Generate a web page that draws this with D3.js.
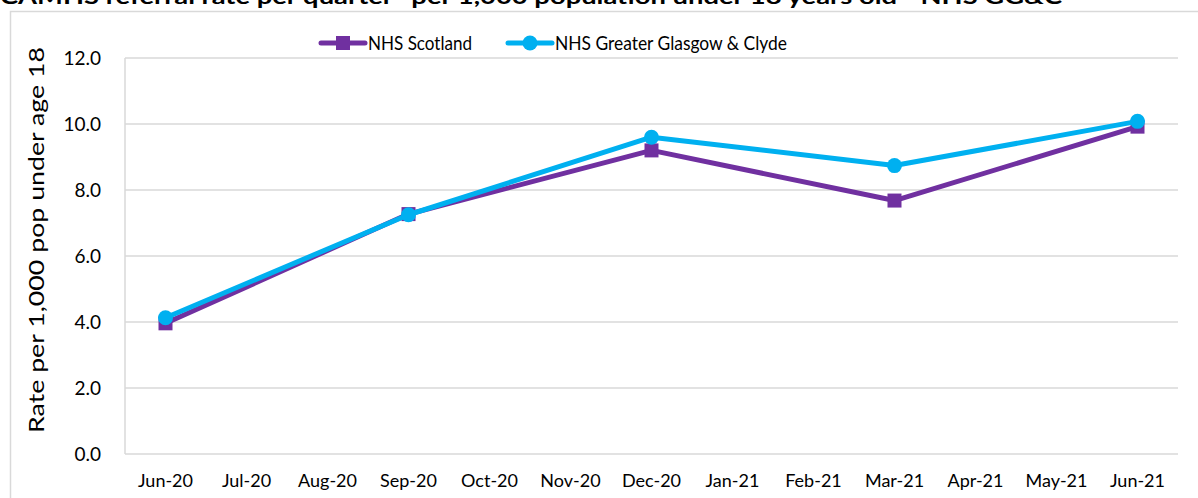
<!DOCTYPE html>
<html>
<head>
<meta charset="utf-8">
<script src="https://cdn.jsdelivr.net/npm/d3@7"></script>
<style>
  html, body { margin: 0; padding: 0; background: #fff; overflow: hidden; }
  svg { display: block; font-family: Lato, "Open Sans", sans-serif; }
</style>
</head>
<body>
<svg id="chart" width="1198" height="498"></svg>
<script>
const months = ["Jun-20","Jul-20","Aug-20","Sep-20","Oct-20","Nov-20","Dec-20","Jan-21","Feb-21","Mar-21","Apr-21","May-21","Jun-21"];
const quarterMonths = ["Jun-20","Sep-20","Dec-20","Mar-21","Jun-21"];
const scotlandValues = [3.96, 7.27, 9.20, 7.68, 9.92];
const ggcValues = [4.13, 7.25, 9.60, 8.74, 10.08];
const yTicks = [0, 2, 4, 6, 8, 10, 12];
const titleText = "CAMHS referral rate per quarter* per 1,000 population under 18 years old - NHS GG&C";
const yAxisTitle = "Rate per 1,000 pop under age 18";
const seriesNames = ["NHS Scotland", "NHS Greater Glasgow & Clyde"];

const svg = d3.select("#chart");
const plot = { left: 125, right: 1178, top: 58, bottom: 454 };

const x = d3.scaleBand().domain(months).range([plot.left, plot.right]);
const y = d3.scaleLinear().domain([0, 12]).range([plot.bottom, plot.top]);
const cx = m => x(m) + x.bandwidth() / 2;

// title (cut off at top, as in the reference)
svg.append("text")
  .attr("x", 0).attr("y", 4)
  .attr("font-weight", "bold").attr("font-size", 20)
  .attr("textLength", 1062).attr("lengthAdjust", "spacingAndGlyphs")
  .attr("fill", "#000")
  .text(titleText);

// outer chart border
svg.append("rect")
  .attr("x", 10.5).attr("y", 11.5).attr("width", 1300).attr("height", 600)
  .attr("fill", "none").attr("stroke", "#d9d9d9").attr("stroke-width", 1.5);

// gridlines
svg.append("g").selectAll("line").data(yTicks.filter(d => d > 0)).join("line")
  .attr("x1", plot.left).attr("x2", plot.right)
  .attr("y1", d => y(d)).attr("y2", d => y(d))
  .attr("stroke", "#d9d9d9").attr("stroke-width", 1.5);

// axis lines
svg.append("line").attr("x1", plot.left).attr("x2", plot.left).attr("y1", plot.top).attr("y2", plot.bottom)
  .attr("stroke", "#d9d9d9").attr("stroke-width", 1.5);
svg.append("line").attr("x1", plot.left).attr("x2", plot.right).attr("y1", plot.bottom).attr("y2", plot.bottom)
  .attr("stroke", "#d9d9d9").attr("stroke-width", 1.5);

// y axis labels
const yAxis = d3.axisLeft(y).tickValues(yTicks).tickFormat(d3.format(".1f")).tickSize(0).tickPadding(24);
const yg = svg.append("g").attr("transform", `translate(${plot.left},0)`).call(yAxis);
yg.select(".domain").remove();
yg.selectAll("text").attr("font-size", 19).attr("fill", "#000").attr("font-family", "Lato, sans-serif");

// x axis labels
const xAxis = d3.axisBottom(x).tickSize(0).tickPadding(20);
const xg = svg.append("g").attr("transform", `translate(0,${plot.bottom})`).call(xAxis);
xg.select(".domain").remove();
xg.selectAll("text").attr("font-size", 18).attr("fill", "#000").attr("font-family", "Lato, sans-serif");

// y axis title
svg.append("text")
  .attr("transform", `translate(44,240) rotate(-90)`)
  .attr("text-anchor", "middle")
  .attr("font-size", 22).attr("fill", "#000")
  .attr("textLength", 386).attr("lengthAdjust", "spacingAndGlyphs")
  .text(yAxisTitle);

const colors = ["#7030A0", "#00B0F0"];
const line = d3.line().x(d => cx(d.m)).y(d => y(d.v));

const seriesData = [scotlandValues, ggcValues].map(vals => quarterMonths.map((m, i) => ({ m, v: vals[i] })));

// Scotland
svg.append("path").datum(seriesData[0]).attr("d", line)
  .attr("fill", "none").attr("stroke", colors[0]).attr("stroke-width", 5).attr("stroke-linejoin", "round");
svg.append("g").selectAll("rect").data(seriesData[0]).join("rect")
  .attr("x", d => cx(d.m) - 7).attr("y", d => y(d.v) - 7)
  .attr("width", 14).attr("height", 14).attr("fill", colors[0]);

// GGC
svg.append("path").datum(seriesData[1]).attr("d", line)
  .attr("fill", "none").attr("stroke", colors[1]).attr("stroke-width", 5).attr("stroke-linejoin", "round");
svg.append("g").selectAll("circle").data(seriesData[1]).join("circle")
  .attr("cx", d => cx(d.m)).attr("cy", d => y(d.v)).attr("r", 7.5).attr("fill", colors[1]);

// legend
const legend = [
  { name: seriesNames[0], color: colors[0], x0: 321, shape: "square", len: 104 },
  { name: seriesNames[1], color: colors[1], x0: 508, shape: "circle", len: 232 }
];
const lg = svg.append("g");
legend.forEach(l => {
  const ly = 43;
  lg.append("line").attr("x1", l.x0).attr("x2", l.x0 + 44).attr("y1", ly).attr("y2", ly)
    .attr("stroke", l.color).attr("stroke-width", 5).attr("stroke-linecap", "round");
  if (l.shape === "square") {
    lg.append("rect").attr("x", l.x0 + 22 - 7).attr("y", ly - 7).attr("width", 14).attr("height", 14).attr("fill", l.color);
  } else {
    lg.append("circle").attr("cx", l.x0 + 22).attr("cy", ly).attr("r", 7.5).attr("fill", l.color);
  }
  lg.append("text").attr("x", l.x0 + 47).attr("y", ly + 7)
    .attr("font-size", 19).attr("fill", "#000")
    .attr("textLength", l.len).attr("lengthAdjust", "spacingAndGlyphs")
    .text(l.name);
});
</script>
</body>
</html>
